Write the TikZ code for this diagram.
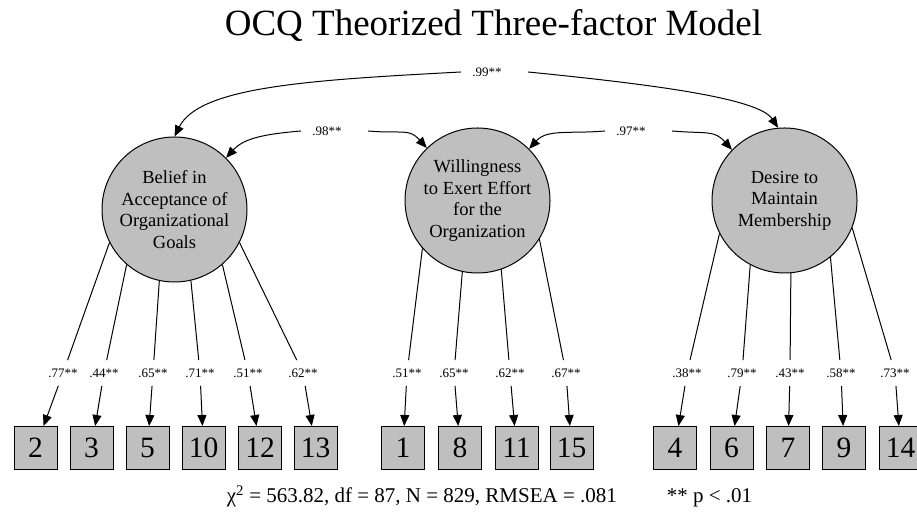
\documentclass[tikz,border=0pt]{standalone}
\usepackage{fontspec}
\setmainfont{Liberation Serif}
\usepackage{tikz}
\usetikzlibrary{arrows.meta}
\usetikzlibrary{calc}

\begin{document}
\begin{tikzpicture}[x=1pt, y=1pt, line width=1pt,
    factor/.style={circle, draw, fill=black!25, minimum size=145pt, inner sep=0pt, align=center,
        font=\fontsize{18.5}{21.5}\selectfont},
    item/.style={rectangle, draw, fill=black!25, minimum size=43pt, inner sep=0pt,
        font=\fontsize{29.5}{29.5}\selectfont},
    load/.style={fill=white, inner xsep=3pt, inner ysep=8pt, font=\fontsize{13}{13}\selectfont},
    cov/.style={inner xsep=11pt, inner ysep=2pt, font=\fontsize{13}{13}\selectfont},
    arr/.style={-{Triangle[length=11pt, width=9pt]}}]

    \useasboundingbox (0, 0) rectangle (917, 513);

    \node [anchor=base, font=\fontsize{37}{37}\selectfont] (title) at (493.5, 477) {OCQ Theorized Three-factor Model};

    % factors
    \node [factor] (goals) at (174.5, 303.5) {Belief in\\Acceptance of\\Organizational\\Goals};
    \node [factor] (effort) at (477.5, 312.5) {Willingness\\to Exert Effort\\for the\\Organization};
    \node [factor] (member) at (784.5, 312.5) {Desire to\\Maintain\\Membership};

    % covariances
    \node [cov] (c99) at (487, 441) {.99**};
    \node [cov] (c98) at (327, 382) {.98**};
    \node [cov] (c97) at (631, 382) {.97**};
    \draw [arr] (c99.west) .. controls +(-150, -8) and +(25, 50) .. (goals.north);
    \draw [arr] ([xshift=15pt]c99.east) .. controls +(120, -12) and +(-20, 30) .. (member.95);
    \draw [arr] (c98.west) .. controls +(-35, -3) and +(18, 20) .. (goals.45);
    \draw [arr] ([xshift=15pt]c98.east) .. controls +(35, -3) and +(-18, 20) .. (effort.134);
    \draw [arr] (c97.west) .. controls +(-35, -3) and +(18, 20) .. (effort.45);
    \draw [arr] ([xshift=15pt]c97.east) .. controls +(35, -3) and +(-18, 20) .. (member.136);

    % items
    \node [item] (i2) at (35.5, 65) {2};
    \node [item] (i3) at (91.5, 65) {3};
    \node [item] (i5) at (147.5, 65) {5};
    \node [item] (i10) at (203.5, 65) {10};
    \node [item] (i12) at (260, 65) {12};
    \node [item] (i13) at (315.5, 65) {13};
    \node [item] (i1) at (403, 65) {1};
    \node [item] (i8) at (460, 65) {8};
    \node [item] (i11) at (516.5, 65) {11};
    \node [item] (i15) at (571.5, 65) {15};
    \node [item] (i4) at (675, 65) {4};
    \node [item] (i6) at (731.5, 65) {6};
    \node [item] (i7) at (788, 65) {7};
    \node [item] (i9) at (844, 65) {9};
    \node [item] (i14) at (900.5, 65) {14};

    % loadings
    \node [load] (l2) at (63, 140) {.77**};
    \node [load] (l3) at (104, 140) {.44**};
    \node [load] (l5) at (153, 140) {.65**};
    \node [load] (l10) at (200, 140) {.71**};
    \node [load] (l12) at (248, 140) {.51**};
    \node [load] (l13) at (303, 140) {.62**};
    \node [load] (l1) at (407, 140) {.51**};
    \node [load] (l8) at (454, 140) {.65**};
    \node [load] (l11) at (510, 140) {.62**};
    \node [load] (l15) at (566, 140) {.67**};
    \node [load] (l4) at (687, 140) {.38**};
    \node [load] (l6) at (742, 140) {.79**};
    \node [load] (l7) at (790, 140) {.43**};
    \node [load] (l9) at (841, 140) {.58**};
    \node [load] (l14) at (895, 140) {.73**};

    \draw (goals.207) -- (l2); \draw [arr] (l2) -- (i2);
    \draw (goals.229) -- (l3); \draw [arr] (l3) -- (i3);
    \draw (goals.258) -- (l5); \draw [arr] (l5) -- (i5);
    \draw (goals.283) -- (l10); \draw [arr] (l10) -- (i10);
    \draw (goals.311) -- (l12); \draw [arr] (l12) -- (i12);
    \draw (goals.333) -- (l13); \draw [arr] (l13) -- (i13);
    \draw (effort.221) -- (l1); \draw [arr] (l1) -- (i1);
    \draw (effort.258) -- (l8); \draw [arr] (l8) -- (i8);
    \draw (effort.289) -- (l11); \draw [arr] (l11) -- (i11);
    \draw (effort.328) -- (l15); \draw [arr] (l15) -- (i15);
    \draw (member.207) -- (l4); \draw [arr] (l4) -- (i4);
    \draw (member.242) -- (l6); \draw [arr] (l6) -- (i6);
    \draw (member.275) -- (l7); \draw [arr] (l7) -- (i7);
    \draw (member.309) -- (l9); \draw [arr] (l9) -- (i9);
    \draw (member.338) -- (l14); \draw [arr] (l14) -- (i14);

    \node [anchor=base west, font=\fontsize{21}{21}\selectfont] (fit) at (223, 10)
        {χ\textsuperscript{2} = 563.82, df = 87, N = 829, RMSEA = .081};
    \node [anchor=base west, font=\fontsize{21}{21}\selectfont] (sig) at (663, 10) {** p < .01};

\end{tikzpicture}
\end{document}
